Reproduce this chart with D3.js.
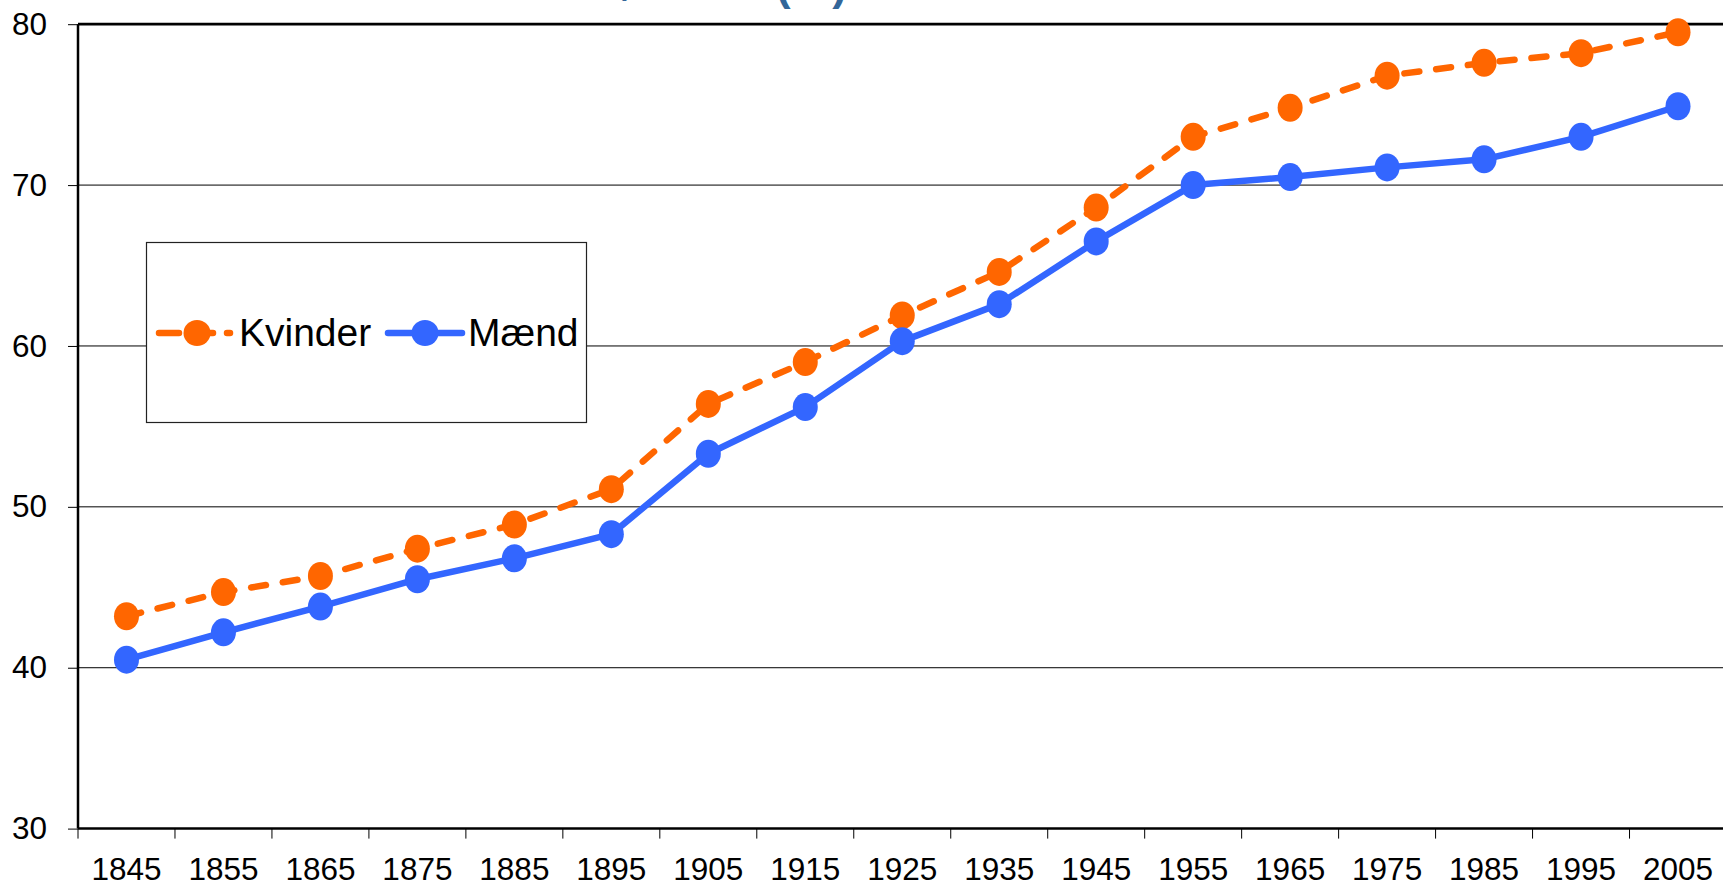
<!DOCTYPE html>
<html>
<head>
<meta charset="utf-8">
<script src="https://cdn.jsdelivr.net/npm/d3@7"></script>
<style>
  html, body { margin: 0; padding: 0; background: #fff; overflow: hidden; }
  svg { display: block; font-family: "Liberation Sans", Arial, sans-serif; }
</style>
</head>
<body>
<svg id="chart" width="1723" height="886"></svg>
<script>
const titleText = "Middellevetid ved fødslen (år)";
const years = ["1845","1855","1865","1875","1885","1895","1905","1915","1925","1935","1945","1955","1965","1975","1985","1995","2005"];
const kvinder = [43.2, 44.7, 45.7, 47.4, 48.9, 51.1, 56.4, 59.0, 61.9, 64.6, 68.6, 73.0, 74.8, 76.8, 77.6, 78.2, 79.5];
const maend   = [40.5, 42.2, 43.8, 45.5, 46.8, 48.3, 53.3, 56.2, 60.3, 62.6, 66.5, 70.0, 70.5, 71.1, 71.6, 73.0, 74.9];
const yTicks = [30, 40, 50, 60, 70, 80];
const seriesNames = ["Kvinder", "Mænd"];

const svg = d3.select("#chart");
const mLeft = 78, mRight = 1726.5, mTop = 24.2, mBottom = 828.6;

const x = d3.scaleBand().domain(years).range([mLeft, mRight]).padding(0);
const y = d3.scaleLinear().domain([30, 80]).range([mBottom, mTop]);
const bw = x.bandwidth();

// title (mostly cut off at top, as in the reference)
svg.append("text")
  .attr("x", 847).attr("y", 0)
  .attr("text-anchor", "end")
  .attr("font-size", 44).attr("font-weight", "bold")
  .attr("fill", "#336699")
  .text(titleText);

// gridlines
svg.append("g").selectAll("line")
  .data(yTicks.filter(t => t > 30 && t < 80))
  .join("line")
  .attr("x1", mLeft).attr("x2", 1723)
  .attr("y1", d => y(d)).attr("y2", d => y(d))
  .attr("stroke", "#000").attr("stroke-width", 1);

// top border
svg.append("line")
  .attr("x1", mLeft).attr("x2", 1723)
  .attr("y1", y(80)).attr("y2", y(80))
  .attr("stroke", "#000").attr("stroke-width", 2.7);

// y axis
const yAxis = svg.append("g")
  .attr("transform", `translate(${mLeft},0)`)
  .call(d3.axisLeft(y).tickValues(yTicks).tickSize(10).tickPadding(21).tickFormat(d3.format("d")));
yAxis.select(".domain").attr("stroke", "#000").attr("stroke-width", 2.5).attr("d", `M0,${y(80)}V${y(30)}`);
yAxis.selectAll(".tick line").attr("stroke", "#000").attr("stroke-width", 1);
yAxis.selectAll(".tick text").attr("font-size", 31.5).attr("fill", "#000")
  .attr("font-family", "'Liberation Sans', Arial, sans-serif");

// x axis
const xAxis = svg.append("g")
  .attr("transform", `translate(0,${mBottom})`)
  .call(d3.axisBottom(x).tickSize(0).tickPadding(29));
xAxis.select(".domain").attr("stroke", "#000").attr("stroke-width", 2.5).attr("d", `M${mLeft},0H1723`);
xAxis.selectAll(".tick text").attr("font-size", 31.5).attr("fill", "#000")
  .attr("font-family", "'Liberation Sans', Arial, sans-serif");
// tick marks at category boundaries
svg.append("g").selectAll("line")
  .data(years)
  .join("line")
  .attr("x1", d => x(d)).attr("x2", d => x(d))
  .attr("y1", mBottom).attr("y2", mBottom + 10)
  .attr("stroke", "#000").attr("stroke-width", 1);

// series
const series = [
  { name: seriesNames[0], values: kvinder, color: "#FF6600", dash: "15,17" },
  { name: seriesNames[1], values: maend, color: "#3366FF", dash: null }
];
const line = d3.line().x((d, i) => x(years[i]) + bw / 2).y(d => y(d));

series.forEach(s => {
  const g = svg.append("g");
  g.append("path")
    .datum(s.values)
    .attr("d", line)
    .attr("fill", "none")
    .attr("stroke", s.color)
    .attr("stroke-width", 6.5)
    .attr("stroke-linecap", "round")
    .attr("stroke-linejoin", "round")
    .attr("stroke-dasharray", s.dash);
  g.selectAll("ellipse")
    .data(s.values)
    .join("ellipse")
    .attr("cx", (d, i) => x(years[i]) + bw / 2)
    .attr("cy", d => y(d))
    .attr("rx", 12.5).attr("ry", 14)
    .attr("fill", s.color);
});

// legend
const lg = svg.append("g");
lg.append("rect")
  .attr("x", 146.5).attr("y", 242.5).attr("width", 440).attr("height", 180)
  .attr("fill", "#fff").attr("stroke", "#222").attr("stroke-width", 1.2);
const legendItems = [
  { s: series[0], x0: 159, x1: 230, cx: 197, tx: 239 },
  { s: series[1], x0: 388, x1: 462, cx: 425, tx: 468 }
];
const ly = 333;
legendItems.forEach(it => {
  lg.append("line")
    .attr("x1", it.x0).attr("x2", it.x1).attr("y1", ly).attr("y2", ly)
    .attr("stroke", it.s.color).attr("stroke-width", 6.5)
    .attr("stroke-linecap", "round")
    .attr("stroke-dasharray", it.s.dash ? "20,14" : null);
  lg.append("ellipse")
    .attr("cx", it.cx).attr("cy", ly).attr("rx", 13.5).attr("ry", 13)
    .attr("fill", it.s.color);
  lg.append("text")
    .attr("x", it.tx).attr("y", 345.5)
    .attr("font-size", 39).attr("fill", "#000")
    .text(it.s.name);
});
</script>
</body>
</html>
